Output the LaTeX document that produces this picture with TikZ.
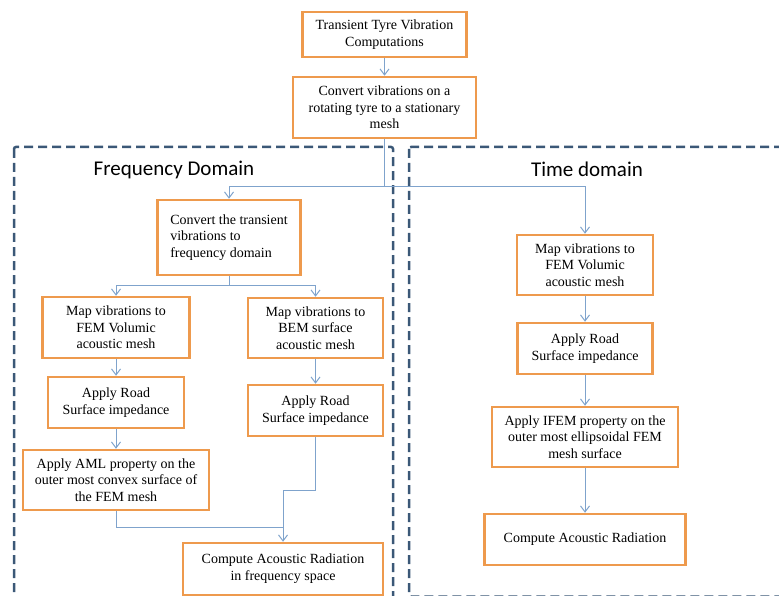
\documentclass[tikz,border=0pt]{standalone}
\usepackage{fontspec}
\setmainfont{Liberation Serif}
\newfontfamily\boxfont{Liberation Serif}
\newfontfamily\headfont{Carlito}
\usetikzlibrary{
  arrows.meta
}
\definecolor{boxorange}{HTML}{EE9A4D}
\definecolor{frameblue}{HTML}{3B5877}
\definecolor{flowblue}{HTML}{7FA3CC}
\tikzset{
  % For the orange process boxes.
  box/.style={
    draw=boxorange,
    line width=2.5pt,
    fill=white,
    align=center,
    inner sep=2pt,
    font=\boxfont\fontsize{14}{16.7}\selectfont},
%
  % For boxes whose lines start flush left.
  left box/.style={
    box,
    align=left},
%
  % For the dashed domain frames.
  domain frame/.style={
    draw=frameblue,
    line width=2.5pt,
    dash pattern=on 9pt off 5pt,
    rounded corners=2pt},
%
  % For the domain titles.
  heading/.style={
    inner sep=0pt,
    anchor=base,
    font=\headfont\fontsize{21}{25}\selectfont},
%
  % For plain connector pieces.
  link/.style={
    draw=flowblue,
    line width=1pt},
%
  % For connector pieces ending in an arrow.
  flow/.style={
    link,
    -{Straight Barb[length=6pt,width=9pt]}}
}

\begin{document}
\begin{tikzpicture}[x=1pt, y=-1pt]
  \clip (0,0) rectangle (779,596);

  % domain frames
  \draw[domain frame] (14,147) rectangle (393,620);
  \draw[domain frame] (409,147) rectangle (800,596.5);
  \node[heading] (freqtitle) at (174,176) {Frequency Domain};
  \node[heading] (timetitle) at (587,177) {Time domain};

  % common part
  \node[box, minimum width=164pt, minimum height=45pt] (b1) at (384.5,34.5)
    {Transient Tyre Vibration\\Computations};
  \node[box, minimum width=183pt, minimum height=61pt] (b2) at (384.5,107.5)
    {Convert vibrations on a\\rotating tyre to a stationary\\mesh};

  % frequency domain
  \node[left box, minimum width=143pt, minimum height=75pt] (b3) at (229,237.5)
    {Convert the transient\\vibrations to\\frequency domain};
  \node[box, minimum width=147pt, minimum height=61pt] (b4) at (116,327.5)
    {Map vibrations to\\FEM Volumic\\acoustic mesh};
  \node[box, minimum width=135pt, minimum height=60pt] (b5) at (315.5,328)
    {Map vibrations to\\BEM surface\\acoustic mesh};
  \node[box, minimum width=136pt, minimum height=51pt] (b6) at (116,402.5)
    {Apply Road\\Surface impedance};
  \node[box, minimum width=135pt, minimum height=51pt] (b7) at (315.5,410.5)
    {Apply Road\\Surface impedance};
  \node[box, minimum width=186pt, minimum height=60pt] (b8) at (116,480)
    {Apply AML property on the\\outer most convex surface of\\the FEM mesh};
  \node[box, minimum width=200pt, minimum height=52pt] (b9) at (283,569)
    {Compute Acoustic Radiation\\in frequency space};

  % time domain
  \node[box, minimum width=136pt, minimum height=60pt] (b10) at (585,265)
    {Map vibrations to\\FEM Volumic\\acoustic mesh};
  \node[box, minimum width=135pt, minimum height=51pt] (b11) at (585,348.5)
    {Apply Road\\Surface impedance};
  \node[box, minimum width=186pt, minimum height=60pt] (b12) at (585,437)
    {Apply IFEM property on the\\outer most ellipsoidal FEM\\mesh surface};
  \node[box, minimum width=201pt, minimum height=51pt] (b13) at (585,539.5)
    {Compute Acoustic Radiation};

  % connectors
  \coordinate (split) at (384.5,187);
  \coordinate (fork) at (229,285);
  \coordinate (bend) at (283,490);
  \coordinate (merge) at (283,527);

  \draw[flow] (b1) -- (b2);
  \draw[link] (b2.south) -- (split);
  \draw[flow] (split) -| (b3.north);
  \draw[flow] (split) -| (b10.north);

  \draw[link] (b3.south) -- (fork);
  \draw[flow] (fork) -| (b4.north);
  \draw[flow] (fork) -| (b5.north);
  \draw[flow] (b4) -- (b6);
  \draw[flow] (b6) -- (b8);
  \draw[flow] (b5) -- (b7);
  \draw[link] (b7.south) |- (bend);
  \draw[link] (b8.south) |- (merge);
  \draw[flow] (bend) -- (b9.north);

  \draw[flow] (b10) -- (b11);
  \draw[flow] (b11) -- (b12);
  \draw[flow] (b12) -- (b13);
\end{tikzpicture}
\end{document}
